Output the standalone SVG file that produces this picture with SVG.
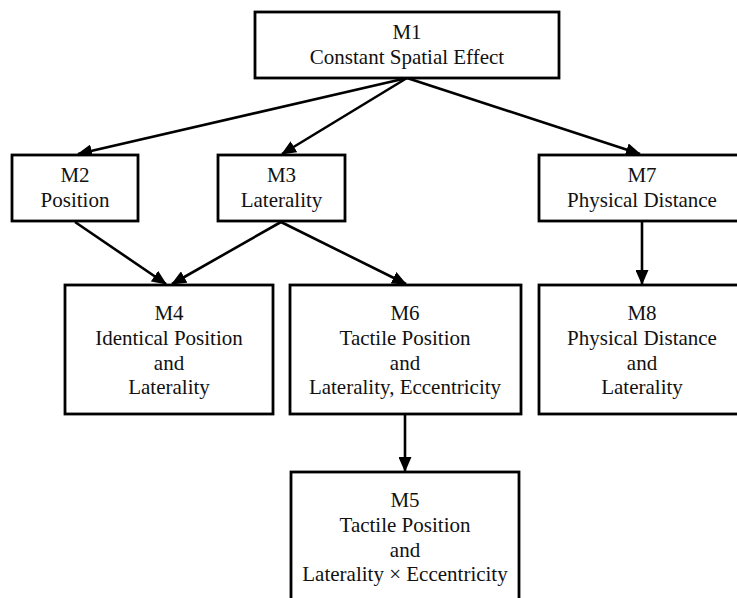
<svg xmlns="http://www.w3.org/2000/svg" width="737" height="598" viewBox="0 0 737 598">
<style>
.box{fill:#fff;stroke:#000;stroke-width:2.8}
.lbl{font-family:"Liberation Serif","Times New Roman",serif;font-size:21px;fill:#111;text-anchor:middle}
.edge{stroke:#000;stroke-width:2.6;fill:none;marker-end:url(#arr)}
</style>
<defs>
<marker id="arr" markerUnits="userSpaceOnUse" markerWidth="15" markerHeight="13" viewBox="0 0 15 13" refX="14" refY="6.5" orient="auto">
<path d="M0,0 L15,6.5 L0,13 z" fill="#000"/>
</marker>
</defs>
<rect width="737" height="598" fill="#fff"/>
<g id="connectors">
<line class="edge" x1="407" y1="78" x2="78" y2="154"/>
<line class="edge" x1="407" y1="78" x2="282" y2="154"/>
<line class="edge" x1="407" y1="78" x2="640" y2="154"/>
<line class="edge" x1="75" y1="222" x2="166" y2="284"/>
<line class="edge" x1="281" y1="222" x2="172" y2="284"/>
<line class="edge" x1="281" y1="222" x2="406" y2="284"/>
<line class="edge" x1="642" y1="222" x2="642" y2="284"/>
<line class="edge" x1="405" y1="414" x2="405" y2="471"/>
</g>
<g id="M1">
<rect class="box" x="255" y="12" width="304" height="66"/>
<text class="lbl" x="407" y="39">M1</text>
<text class="lbl" x="407" y="64">Constant Spatial Effect</text>
</g>
<g id="M2">
<rect class="box" x="12" y="155" width="126" height="66"/>
<text class="lbl" x="75" y="182">M2</text>
<text class="lbl" x="75" y="207">Position</text>
</g>
<g id="M3">
<rect class="box" x="218" y="155" width="127" height="66"/>
<text class="lbl" x="281.5" y="182">M3</text>
<text class="lbl" x="281.5" y="207">Laterality</text>
</g>
<g id="M7">
<rect class="box" x="539" y="155" width="206" height="66"/>
<text class="lbl" x="642" y="182">M7</text>
<text class="lbl" x="642" y="207">Physical Distance</text>
</g>
<g id="M4">
<rect class="box" x="65" y="285" width="208" height="129"/>
<text class="lbl" x="169" y="320">M4</text>
<text class="lbl" x="169" y="345">Identical Position</text>
<text class="lbl" x="169" y="370">and</text>
<text class="lbl" x="169" y="394">Laterality</text>
</g>
<g id="M6">
<rect class="box" x="290" y="285" width="231" height="129"/>
<text class="lbl" x="405" y="320">M6</text>
<text class="lbl" x="405" y="345">Tactile Position</text>
<text class="lbl" x="405" y="370">and</text>
<text class="lbl" x="405" y="394">Laterality, Eccentricity</text>
</g>
<g id="M8">
<rect class="box" x="539" y="285" width="206" height="129"/>
<text class="lbl" x="642" y="320">M8</text>
<text class="lbl" x="642" y="345">Physical Distance</text>
<text class="lbl" x="642" y="370">and</text>
<text class="lbl" x="642" y="394">Laterality</text>
</g>
<g id="M5">
<rect class="box" x="291" y="472" width="228" height="140"/>
<text class="lbl" x="405" y="507">M5</text>
<text class="lbl" x="405" y="532">Tactile Position</text>
<text class="lbl" x="405" y="557">and</text>
<text class="lbl" x="405" y="581">Laterality × Eccentricity</text>
</g>
</svg>
